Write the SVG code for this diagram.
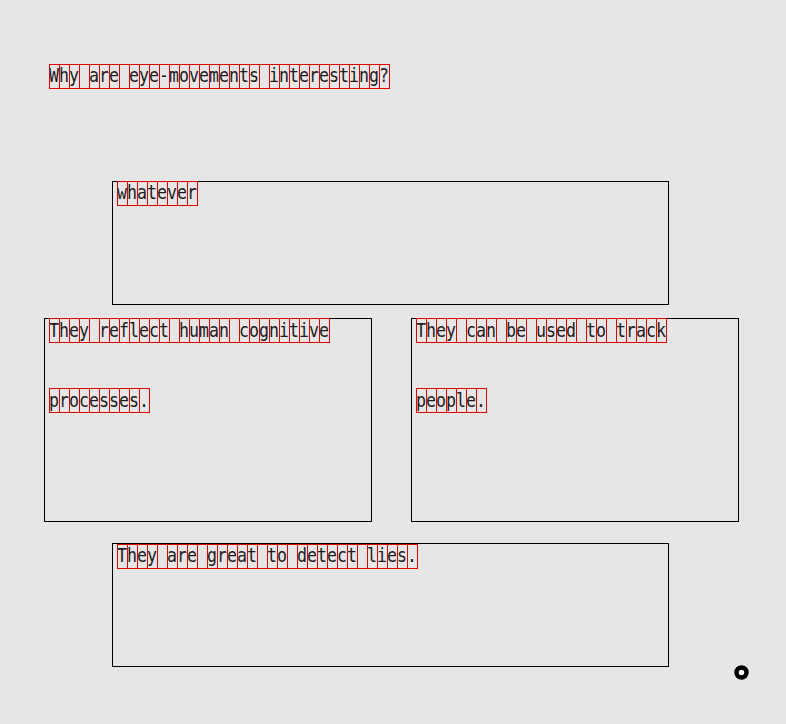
<svg xmlns="http://www.w3.org/2000/svg" width="786" height="724" viewBox="0 0 786 724">
<style>
.node{fill:none;stroke:#000;stroke-width:1}
.t{font-family:"DejaVu Sans Mono","Liberation Mono",monospace;font-size:19px;fill:#1e1e1e}
.cbo{fill:none;stroke:#e00000;stroke-width:1}
.cbl{stroke:#e00000;stroke-width:24;stroke-dasharray:1 9;fill:none}
</style>
<rect x="0" y="0" width="786" height="724" fill="#e6e6e6"/>
<g id="connectors"></g>
<g id="title">
<rect class="cbo" x="49.5" y="64.5" width="340" height="24"/>
<line class="cbl" x1="49" y1="76.5" x2="389" y2="76.5"/>
<text class="t" x="49" y="81.5" textLength="340" lengthAdjust="spacingAndGlyphs">Why are eye-movements interesting?</text>
</g>
<g id="node-whatever">
<rect class="node" x="112.5" y="181.5" width="556" height="123"/>
<rect class="cbo" x="117.5" y="181.5" width="80" height="24"/>
<line class="cbl" x1="117" y1="193.5" x2="197" y2="193.5"/>
<text class="t" x="117" y="199" textLength="80" lengthAdjust="spacingAndGlyphs">whatever</text>
</g>
<g id="node-cognitive">
<rect class="node" x="44.5" y="318.5" width="327" height="203"/>
<rect class="cbo" x="49.5" y="318.5" width="280" height="24"/>
<line class="cbl" x1="49" y1="330.5" x2="329" y2="330.5"/>
<text class="t" x="49" y="337" textLength="280" lengthAdjust="spacingAndGlyphs">They reflect human cognitive</text>
<rect class="cbo" x="49.5" y="388.5" width="100" height="24"/>
<line class="cbl" x1="49" y1="400.5" x2="149" y2="400.5"/>
<text class="t" x="49" y="406.5" textLength="100" lengthAdjust="spacingAndGlyphs">processes.</text>
</g>
<g id="node-track">
<rect class="node" x="411.5" y="318.5" width="327" height="203"/>
<rect class="cbo" x="416.5" y="318.5" width="250" height="24"/>
<line class="cbl" x1="416" y1="330.5" x2="666" y2="330.5"/>
<text class="t" x="416" y="337" textLength="250" lengthAdjust="spacingAndGlyphs">They can be used to track</text>
<rect class="cbo" x="416.5" y="388.5" width="70" height="24"/>
<line class="cbl" x1="416" y1="400.5" x2="486" y2="400.5"/>
<text class="t" x="416" y="406.5" textLength="70" lengthAdjust="spacingAndGlyphs">people.</text>
</g>
<g id="node-lies">
<rect class="node" x="112.5" y="543.5" width="556" height="123"/>
<rect class="cbo" x="117.5" y="544.5" width="300" height="24"/>
<line class="cbl" x1="117" y1="556.5" x2="417" y2="556.5"/>
<text class="t" x="117" y="562" textLength="300" lengthAdjust="spacingAndGlyphs">They are great to detect lies.</text>
</g>
<g id="marker-dot">
<circle cx="741.5" cy="672.5" r="5" fill="#fff" stroke="#000" stroke-width="4.5"/>
</g>
</svg>
